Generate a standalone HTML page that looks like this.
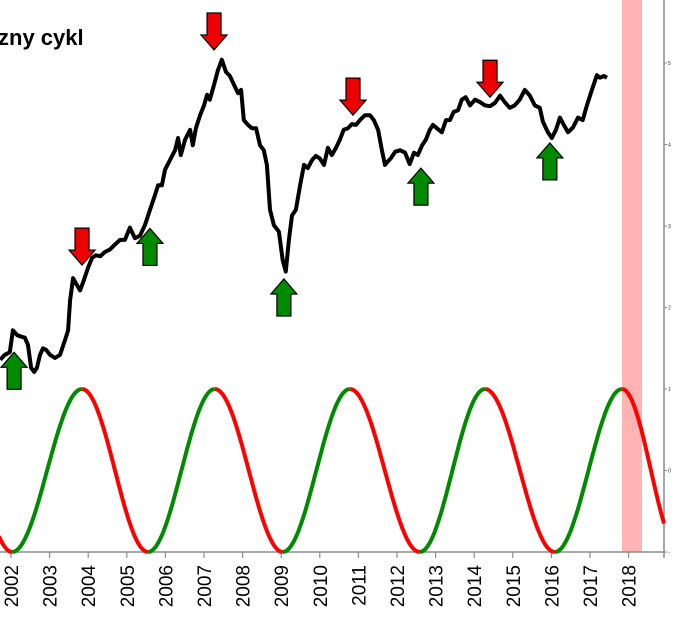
<!DOCTYPE html>
<html><head><meta charset="utf-8"><style>
html,body{margin:0;padding:0;background:#fff;width:674px;height:617px;overflow:hidden}
svg{display:block;font-family:"Liberation Sans",sans-serif}
</style></head><body>
<svg id="chart" width="674" height="617" viewBox="0 0 674 617">
<rect x="622" y="0" width="20" height="552" fill="#ffb3b3"/>
<g id="axes"></g>
<g id="cycle"></g>
<path id="price" fill="none" stroke="#000" stroke-width="4" stroke-linejoin="round"/>
<g id="arrows"></g>
<text x="-2" y="45" font-size="22" font-weight="bold">zny cykl</text>
</svg>
<script>
const years=[2001.72,2001.84,2001.97,2002.05,2002.16,2002.28,2002.36,2002.44,2002.52,2002.60,2002.67,2002.75,2002.83,2002.91,2003.01,2003.14,2003.27,2003.40,2003.48,2003.53,2003.61,2003.68,2003.79,2003.89,2003.99,2004.10,2004.20,2004.31,2004.43,2004.56,2004.69,2004.82,2004.95,2005.08,2005.21,2005.34,2005.47,2005.60,2005.73,2005.81,2005.91,2005.99,2006.12,2006.25,2006.33,2006.40,2006.51,2006.64,2006.71,2006.79,2006.90,2007.00,2007.08,2007.15,2007.26,2007.36,2007.46,2007.57,2007.67,2007.78,2007.88,2007.96,2008.03,2008.14,2008.24,2008.35,2008.45,2008.55,2008.63,2008.71,2008.81,2008.94,2009.04,2009.12,2009.20,2009.28,2009.38,2009.49,2009.59,2009.69,2009.80,2009.90,2010.00,2010.11,2010.21,2010.31,2010.42,2010.52,2010.62,2010.73,2010.83,2010.94,2011.04,2011.17,2011.30,2011.40,2011.51,2011.61,2011.69,2011.76,2011.84,2011.95,2012.08,2012.21,2012.33,2012.44,2012.54,2012.65,2012.75,2012.85,2012.93,2013.03,2013.16,2013.27,2013.37,2013.47,2013.58,2013.68,2013.78,2013.89,2014.02,2014.15,2014.28,2014.41,2014.54,2014.67,2014.79,2014.92,2015.05,2015.18,2015.31,2015.44,2015.57,2015.70,2015.78,2015.91,2016.01,2016.12,2016.22,2016.32,2016.43,2016.56,2016.69,2016.81,2016.92,2017.05,2017.18,2017.26,2017.36,2017.44];
const prices=[236,242,245,272,266,264,263,254,226,221,226,242,250,248,242,238,242,260,272,309,336,330,321,334,348,361,364,363,368,371,377,383,383,398,385,388,401,420,438,450,450,469,481,493,508,487,506,518,499,520,536,548,561,555,573,591,604,589,584,573,563,567,530,524,520,520,499,493,475,420,401,393,358,344,383,413,420,450,475,471,481,486,483,475,496,487,496,506,518,520,525,524,530,536,536,530,518,493,475,479,483,491,493,490,476,490,487,499,506,518,524,520,515,530,530,540,542,555,558,548,555,552,548,547,551,560,552,545,548,555,567,560,548,545,528,515,508,518,533,524,515,521,533,530,548,567,585,582,584,582];
const peakYears=[2000.33,2003.84,2007.28,2010.78,2014.28,2017.83];
const troughYears=[2002.03,2005.55,2009.04,2012.59,2016.09,2019.33];
const tickYears=[2002,2003,2004,2005,2006,2007,2008,2009,2010,2011,2012,2013,2014,2015,2016,2017,2018];
const rightTicks=[0,100,200,300,400,500,600];
const rightLabels=['-','0','1','2','3','4','5'];
const cycleMax=200;
const downArrows=[2003.84,2007.26,2010.86,2014.41];
const downArrowVals=[352,616,536,558];
const upArrows=[2002.08,2005.60,2009.07,2012.62,2015.96];
const upArrowVals=[245,397,335,471,502];

const NS='http://www.w3.org/2000/svg';
const X0=11,XS=38.6,Y0=552,YS=0.815,XMAX=664;
const xs=t=>X0+(t-2002)*XS;
const ys=v=>Y0-v*YS;
function mk(tag,attrs,parent){const e=document.createElementNS(NS,tag);for(const k in attrs)e.setAttribute(k,attrs[k]);parent.appendChild(e);return e;}
const axes=document.getElementById('axes');
let e=mk('line',{x1:0,y1:Y0,x2:XMAX,y2:Y0,stroke:'#8c8c8c','stroke-width':1.5},axes);


e=mk('line',{x1:XMAX,y1:0,x2:XMAX,y2:Y0+6,stroke:'#8c8c8c','stroke-width':1.5},axes);


tickYears.forEach(t=>{
 const x=xs(t);
 mk('line',{x1:x,y1:Y0,x2:x,y2:Y0+6,stroke:'#8c8c8c','stroke-width':1.2},axes);
 const tx=mk('text',{x:0,y:0,'font-size':19,'text-anchor':'end',transform:`translate(${x+7},565) rotate(-90)`},axes);
 tx.textContent=t;
 
 
});
rightTicks.forEach((v,i)=>{
 const y=ys(v);
 mk('line',{x1:XMAX,y1:y,x2:XMAX+3,y2:y,stroke:'#8c8c8c','stroke-width':1},axes);
 const tx=mk('text',{x:XMAX+4,y:y+2,'font-size':5,fill:'#333'},axes);
 tx.textContent=rightLabels[i];
 
 
});
let d='';years.forEach((t,i)=>{d+=(i?'L':'M')+xs(t).toFixed(1)+','+ys(prices[i]).toFixed(1);});
document.getElementById('price').setAttribute('d',d);
const cyc=document.getElementById('cycle');
const turns=[];peakYears.forEach(p=>turns.push([p,1]));troughYears.forEach(t=>turns.push([t,0]));
turns.sort((a,b)=>a[0]-b[0]);
for(let i=0;i<turns.length-1;i++){
 const [a,va]=turns[i],[b,vb]=turns[i+1];
 let p='';
 for(let k=0;k<=40;k++){
  const t=a+(b-a)*k/40;
  if(xs(t)<-2||xs(t)>XMAX+1)continue;
  const f=(1-Math.cos(Math.PI*k/40))/2;
  const v=(va+(vb-va)*f)*cycleMax;
  p+=(p?'L':'M')+xs(t).toFixed(1)+','+ys(v).toFixed(1);
 }
 if(!p)continue;
 const seg=mk('path',{d:p,fill:'none',stroke:vb>va?'#008a00':'#ff0000','stroke-width':4},cyc);
 
 
}
const ar=document.getElementById('arrows');
function arrow(x,tipY,down,color,name){
 const s=down?1:-1;
 const h=37,hw=13,sw=7,hh=15;
 const base=tipY-s*h, neck=tipY-s*hh;
 const pts=[[x-sw,base],[x+sw,base],[x+sw,neck],[x+hw,neck],[x,tipY],[x-hw,neck],[x-sw,neck]];
 const a=mk('polygon',{points:pts.map(p=>p.join(',')).join(' '),fill:color,stroke:'#000','stroke-width':1.2},ar);
 
 
}
downArrows.forEach((t,i)=>arrow(xs(t),ys(downArrowVals[i]),true,'#ee0000','sell-arrow'));
upArrows.forEach((t,i)=>arrow(xs(t),ys(upArrowVals[i]),false,'#008a00','buy-arrow'));
</script>
</body></html>
